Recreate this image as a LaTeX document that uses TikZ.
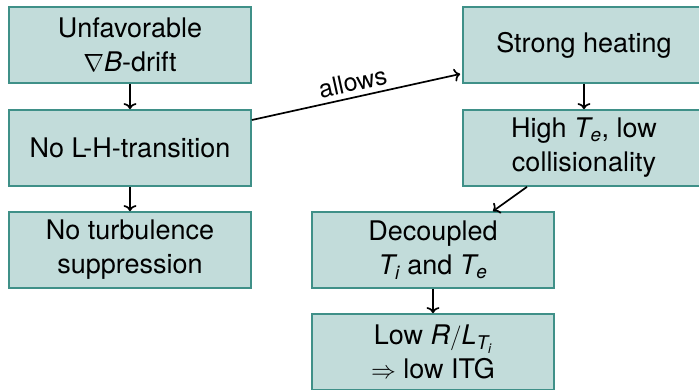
\documentclass[tikz,border=0pt]{standalone}
\usepackage{amsmath}
\usepackage{fontspec}
\setmainfont{TeX Gyre Heros}
\usetikzlibrary{arrows.meta}
\definecolor{boxfill}{HTML}{C2DCDA}
\definecolor{boxline}{HTML}{3F9088}
\newcommand{\iv}[1]{\textit{#1}}
\begin{document}
\begin{tikzpicture}[x=1pt,y=-1pt,
  flowbox/.style={draw=boxline, fill=boxfill, line width=1.7pt, rectangle,
    minimum width=242pt, minimum height=76pt, align=center, inner sep=2pt,
    font=\fontsize{27}{34}\selectfont},
  flowarrow/.style={line width=1.7pt, -{To[length=6pt,width=13pt]}}]
\useasboundingbox (0,0) rectangle (699,389);
\clip (0,0) rectangle (699,389);
\node[flowbox] (b1) at (130,45) {Unfavorable\\$\nabla$\iv{B}-drift};
\node[flowbox] (b2) at (130,148) {No L-H-transition};
\node[flowbox] (b3) at (130,250) {No turbulence\\suppression};
\node[flowbox] (heat) at (584,45) {Strong heating};
\node[flowbox] (hi) at (584,148) {High $\textit{T}_{\textit{e}}$, low\\collisionality};
\node[flowbox] (dec) at (433,250) {Decoupled\\$\textit{T}_{\textit{i}}$ and $\textit{T}_{\textit{e}}$};
\node[flowbox] (low) at (433,352) {Low $\textit{R}/\textit{L}_{\textit{T}_{\textit{i}}}$\\$\Rightarrow$ low ITG};
\draw[flowarrow] (b1.south) -- (b2.north);
\draw[flowarrow] (b2.south) -- (b3.north);
\draw[flowarrow] (heat.south) -- (hi.north);
\draw[flowarrow] ([xshift=-57pt]hi.south) -- ([xshift=60pt]dec.north);
\draw[flowarrow] (dec.south) -- (low.north);
\draw[flowarrow] ([yshift=28pt]b2.east) -- node[midway, above, sloped, inner sep=5pt, font=\fontsize{25}{30}\selectfont] (lbl) {allows} ([yshift=-29pt, xshift=-2pt]heat.west);
\end{tikzpicture}
\end{document}
